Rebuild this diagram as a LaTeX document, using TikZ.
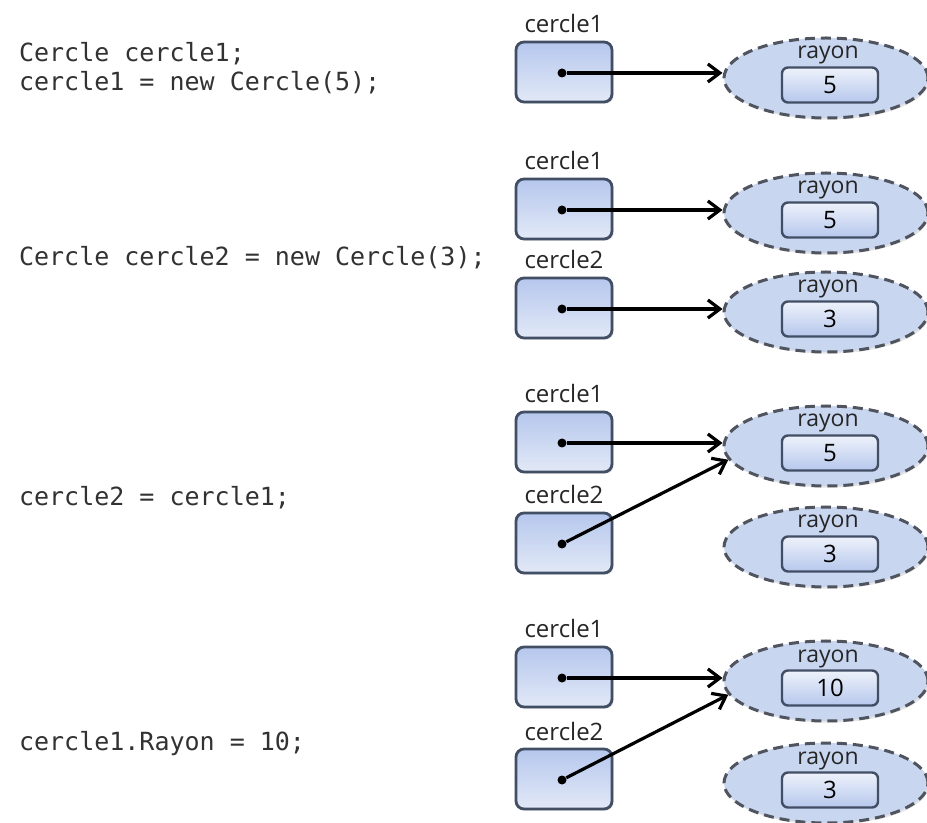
\documentclass[tikz,border=0pt]{standalone}
\usepackage{fontspec}
\setmainfont{Open Sans}
\newfontfamily\codefont{DejaVu Sans Mono}
\usetikzlibrary{shapes.geometric,arrows.meta,shadows}
\definecolor{boxLine}{RGB}{66,78,100}
\definecolor{boxTop}{RGB}{182,199,237}
\definecolor{boxBottom}{RGB}{226,233,247}
\definecolor{objFill}{RGB}{200,214,240}
\definecolor{objLine}{RGB}{80,84,95}
\definecolor{codeGray}{RGB}{50,50,50}

\begin{document}
\begin{tikzpicture}[x=0.5pt,y=-0.5pt,
      varBox/.style={draw=boxLine,line width=1.4pt,rounded corners=4pt,top color=boxTop,bottom color=boxBottom,
        minimum width=48pt,minimum height=30pt,inner sep=0pt,
        drop shadow={opacity=0.25,shadow xshift=0.8pt,shadow yshift=-0.8pt}},
      varName/.style={anchor=base,font=\fontsize{12}{14}\selectfont,text=black!85},
      refDot/.style={circle,fill=black,inner sep=0pt,minimum size=4.5pt},
      objNode/.style={ellipse,draw=objLine,dash pattern=on 5pt off 3pt,line width=1.5pt,fill=objFill,
        minimum width=102pt,minimum height=40pt,inner sep=0pt,
        drop shadow={opacity=0.2,shadow xshift=0.8pt,shadow yshift=-0.8pt}},
      fieldName/.style={anchor=base,font=\fontsize{11.5}{14}\selectfont,text=black!85},
      valBox/.style={draw=boxLine,line width=1.2pt,rounded corners=3pt,top color=boxBottom!60!white,bottom color=boxTop,
        minimum width=48pt,minimum height=17.5pt,inner sep=0pt,font=\fontsize{12}{14}\selectfont},
      refArrow/.style={-{Straight Barb[length=6pt,width=9pt,line width=1.6pt]},line width=1.6pt},
      codeLine/.style={anchor=base west,font=\codefont\fontsize{12.5}{15}\selectfont,text=codeGray},
    ]

    \fill[white] (0,0) rectangle (927,823);
    \useasboundingbox (0,0) rectangle (927,823);

    % cercle1 = new Cercle(5)
    \node[codeLine] (p1codeA) at (12,62) {Cercle cercle1;};
    \node[codeLine] (p1codeB) at (12,91) {cercle1 = new Cercle(5);};

    \node[varName] (p1name1) at (564,33) {cercle1};
    \node[varBox] (p1var1) at (564,72) {};
    \node[refDot] (p1dot1) at (562,73) {};
    \node[objNode] (p1obj1) at (826,78) {};
    \node[fieldName] (p1field1) at (828,59) {rayon};
    \node[valBox] (p1val1) at (830,85) {5};
    \draw[refArrow] (p1dot1) -- (p1dot1 -| p1obj1.west);

    % Cercle cercle2 = new Cercle(3)
    \node[codeLine] (p2code) at (12,266) {Cercle cercle2 = new Cercle(3);};

    \node[varName] (p2name1) at (564,170) {cercle1};
    \node[varBox] (p2var1) at (564,209) {};
    \node[refDot] (p2dot1) at (562,210) {};
    \node[objNode] (p2obj1) at (826,213) {};
    \node[fieldName] (p2field1) at (828,194) {rayon};
    \node[valBox] (p2val1) at (830,220) {5};
    \draw[refArrow] (p2dot1) -- (p2dot1 -| p2obj1.west);

    \node[varName] (p2name2) at (564,269) {cercle2};
    \node[varBox] (p2var2) at (564,308) {};
    \node[refDot] (p2dot2) at (562,309) {};
    \node[objNode] (p2obj2) at (826,312) {};
    \node[fieldName] (p2field2) at (828,293) {rayon};
    \node[valBox] (p2val2) at (830,319) {3};
    \draw[refArrow] (p2dot2) -- (p2dot2 -| p2obj2.west);

    % cercle2 = cercle1
    \node[codeLine] (p3code) at (12,506) {cercle2 = cercle1;};

    \node[varName] (p3name1) at (564,403) {cercle1};
    \node[varBox] (p3var1) at (564,442) {};
    \node[refDot] (p3dot1) at (562,443) {};
    \node[objNode] (p3obj1) at (826,446) {};
    \node[fieldName] (p3field1) at (828,427) {rayon};
    \node[valBox] (p3val1) at (830,453) {5};
    \draw[refArrow] (p3dot1) -- (p3dot1 -| p3obj1.west);

    \node[varName] (p3name2) at (564,504) {cercle2};
    \node[varBox] (p3var2) at (564,543) {};
    \node[refDot] (p3dot2) at (562,544) {};
    \node[objNode] (p3obj2) at (826,547) {};
    \node[fieldName] (p3field2) at (828,528) {rayon};
    \node[valBox] (p3val2) at (830,554) {3};
    \draw[refArrow] (p3dot2) -- (p3obj1.188);

    % cercle1.Rayon = 10
    \node[codeLine] (p4code) at (12,750) {cercle1.Rayon = 10;};

    \node[varName] (p4name1) at (564,638) {cercle1};
    \node[varBox] (p4var1) at (564,677) {};
    \node[refDot] (p4dot1) at (562,678) {};
    \node[objNode] (p4obj1) at (826,681) {};
    \node[fieldName] (p4field1) at (828,662) {rayon};
    \node[valBox] (p4val1) at (830,688) {10};
    \draw[refArrow] (p4dot1) -- (p4dot1 -| p4obj1.west);

    \node[varName] (p4name2) at (564,740) {cercle2};
    \node[varBox] (p4var2) at (564,779) {};
    \node[refDot] (p4dot2) at (562,780) {};
    \node[objNode] (p4obj2) at (826,783) {};
    \node[fieldName] (p4field2) at (828,764) {rayon};
    \node[valBox] (p4val2) at (830,790) {3};
    \draw[refArrow] (p4dot2) -- (p4obj1.188);

\end{tikzpicture}
\end{document}
